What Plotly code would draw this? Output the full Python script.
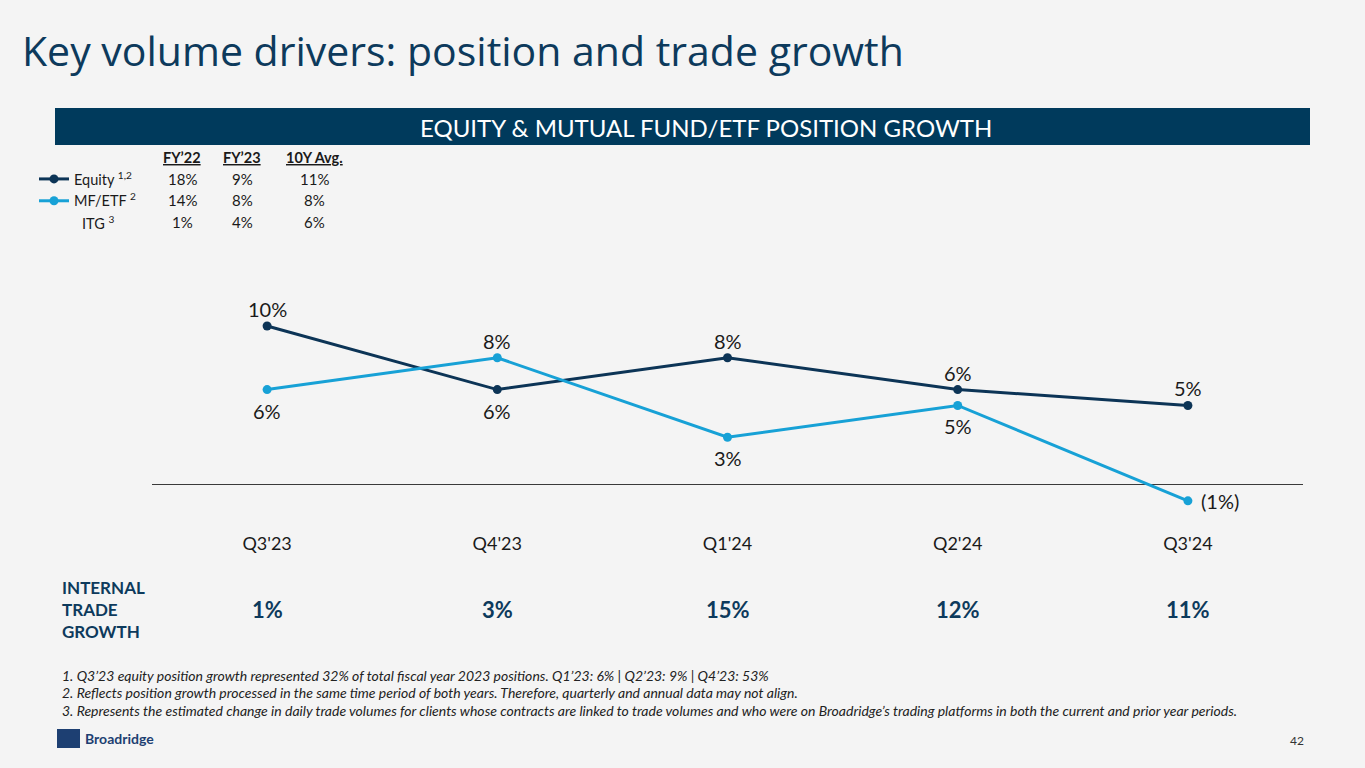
import plotly.graph_objects as go

# quarters and series (percent growth)
quarters = ["Q3'23", "Q4'23", "Q1'24", "Q2'24", "Q3'24"]
equity = [10, 6, 8, 6, 5]
mf_etf = [6, 8, 3, 5, -1]
itg = [1, 3, 15, 12, 11]

# where each point label sits relative to its marker
equity_label_side = ["above", "below", "above", "above", "above"]
mf_label_side = ["below", "above", "below", "below", "right"]

# legend table
table_cols = ["FY’22", "FY’23", "10Y Avg."]
equity_fy = ["18%", "9%", "11%"]
mf_fy = ["14%", "8%", "8%"]
itg_fy = ["1%", "4%", "6%"]

footnotes = [
    "1. Q3’23 equity position growth represented 32% of total fiscal year 2023 positions. Q1’23: 6% | Q2’23: 9% | Q4’23: 53%",
    "2. Reflects position growth processed in the same time period of both years. Therefore, quarterly and annual data may not align.",
    "3. Represents the estimated change in daily trade volumes for clients whose contracts are linked to trade volumes and who were on Broadridge’s trading platforms in both the current and prior year periods.",
]

NAVY = "#0d3a5c"
EQ_COLOR = "#0c3456"
MF_COLOR = "#17a1d6"
BG = "#f4f4f4"
W, H = 1365, 768


def px(x):
    return x / W


def py(y):
    return 1 - y / H


def pct(v):
    return f"({abs(v)}%)" if v < 0 else f"{v}%"


idx = list(range(len(quarters)))

fig = go.Figure()

for name, values, color in [
    ("Equity <sup>1,2</sup>", equity, EQ_COLOR),
    ("MF/ETF <sup>2</sup>", mf_etf, MF_COLOR),
]:
    fig.add_trace(
        go.Scatter(
            x=idx,
            y=values,
            mode="lines+markers",
            name=name,
            line=dict(color=color, width=3),
            marker=dict(size=9, color=color),
            cliponaxis=False,
        )
    )

annotations = []

# point labels, placed at the data points and nudged off the marker
shifts = {"above": (0, 17), "below": (0, -21), "right": (32, 0)}
for values, sides in [(equity, equity_label_side), (mf_etf, mf_label_side)]:
    for i, v, side in zip(idx, values, sides):
        dx, dy = shifts[side]
        annotations.append(dict(
            x=i, y=v, xref="x", yref="y", xshift=dx, yshift=dy,
            xanchor="center", yanchor="middle", text=pct(v), showarrow=False,
            font=dict(size=20, color="#1a1a1a", family="Lato"),
        ))

# title
annotations.append(dict(
    x=px(20), y=py(50), xref="paper", yref="paper", xanchor="left", yanchor="middle",
    text="Key volume drivers: position and trade growth", showarrow=False,
    font=dict(size=41, color=NAVY, family="Open Sans"),
))
# header bar text
annotations.append(dict(
    x=px(706), y=py(127), xref="paper", yref="paper", xanchor="center", yanchor="middle",
    text="EQUITY & MUTUAL FUND/ETF POSITION GROWTH", showarrow=False,
    font=dict(size=24, color="white", family="Lato"),
))

# legend table
col_x = [182, 242, 314]
row_y = [179, 200, 222]
for cx, name in zip(col_x, table_cols):
    annotations.append(dict(
        x=px(cx), y=py(158), xref="paper", yref="paper", xanchor="center", yanchor="middle",
        text=f"<b><u>{name}</u></b>", showarrow=False,
        font=dict(size=14.5, color="#1a1a1a", family="Lato"),
    ))
for ry, row in zip(row_y, [equity_fy, mf_fy, itg_fy]):
    for cx, val in zip(col_x, row):
        annotations.append(dict(
            x=px(cx), y=py(ry), xref="paper", yref="paper", xanchor="center", yanchor="middle",
            text=val, showarrow=False,
            font=dict(size=15, color="#1a1a1a", family="Lato"),
        ))
annotations.append(dict(
    x=px(80), y=py(223), xref="paper", yref="paper", xanchor="left", yanchor="middle",
    text="ITG <sup>3</sup>", showarrow=False,
    font=dict(size=14.5, color="#1a1a1a", family="Lato"),
))

# internal trade growth row
annotations.append(dict(
    x=px(60), y=py(609), xref="paper", yref="paper", xanchor="left", yanchor="middle", align="left",
    text="<b>INTERNAL<br>TRADE<br>GROWTH</b>", showarrow=False,
    font=dict(size=17, color=NAVY, family="Lato"),
))
for i, v in zip(idx, itg):
    annotations.append(dict(
        x=i, y=py(609), xref="x", yref="paper", xanchor="center", yanchor="middle",
        text=f"<b>{v}%</b>", showarrow=False,
        font=dict(size=22, color=NAVY, family="Lato"),
    ))

# footnotes
for k, note in enumerate(footnotes):
    annotations.append(dict(
        x=px(60), y=py(675 + 17.5 * k), xref="paper", yref="paper", xanchor="left", yanchor="middle",
        text=f"<i>{note}</i>", showarrow=False,
        font=dict(size=14, color="#222222", family="Lato"),
    ))

# logo text and page number
annotations.append(dict(
    x=px(83), y=py(738), xref="paper", yref="paper", xanchor="left", yanchor="middle",
    text="<b>Broadridge</b>", showarrow=False,
    font=dict(size=14, color="#1d3f72", family="Lato"),
))
annotations.append(dict(
    x=px(1306), y=py(740), xref="paper", yref="paper", xanchor="right", yanchor="middle",
    text="42", showarrow=False,
    font=dict(size=12, color="#333333", family="Lato"),
))

shapes = [
    # header bar
    dict(type="rect", xref="paper", yref="paper", x0=px(55), x1=px(1310), y0=py(145), y1=py(108),
         fillcolor="#003a5c", line=dict(width=0), layer="below"),
    # logo box
    dict(type="rect", xref="paper", yref="paper", x0=px(57), x1=px(80), y0=py(748), y1=py(729),
         fillcolor="#1d3f72", line=dict(width=0)),
]

fig.update_layout(
    width=W,
    height=H,
    margin=dict(l=0, r=0, t=0, b=0),
    paper_bgcolor=BG,
    plot_bgcolor=BG,
    font=dict(family="Lato", color="#1a1a1a"),
    showlegend=True,
    legend=dict(
        x=px(34), y=py(163), xanchor="left", yanchor="top",
        bgcolor="rgba(0,0,0,0)", font=dict(size=14.5, color="#1a1a1a", family="Lato"),
        itemwidth=30, tracegroupgap=0,
    ),
    annotations=annotations,
    shapes=shapes,
    xaxis=dict(
        domain=[px(152), px(1303)],
        range=[-0.5, 4.5],
        tickvals=idx,
        ticktext=quarters,
        tickfont=dict(size=18, color="#1a1a1a", family="Lato"),
        showgrid=False,
        zeroline=False,
        showline=False,
        ticks="",
        ticklabelstandoff=6,
    ),
    yaxis=dict(
        domain=[py(525), py(285)],
        range=[-2.52, 12.58],
        showticklabels=False,
        showgrid=False,
        zeroline=True,
        zerolinecolor="#3a3a3a",
        zerolinewidth=1,
        ticks="",
    ),
)

# drop the page's default body margin so the slide fills the window
fig.write_html(
    "out.html",
    config={"displayModeBar": False},
    post_script="document.body.style.margin='0';document.body.style.background='#f4f4f4';",
)
